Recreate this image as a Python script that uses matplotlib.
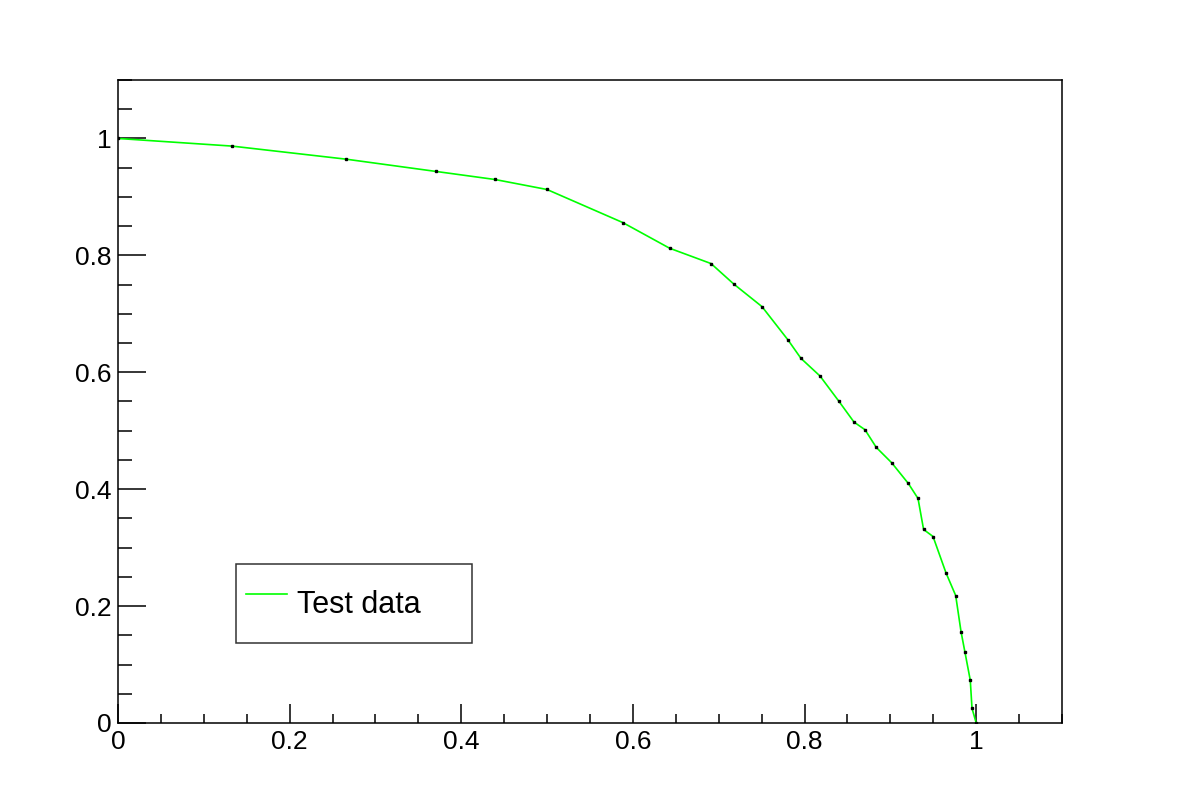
import matplotlib
matplotlib.use("Agg")
import matplotlib.pyplot as plt
from matplotlib.ticker import MultipleLocator
import numpy as np

plt.rcParams["font.family"] = ["Liberation Sans", "DejaVu Sans"]

# curve
x_vals = [0.0, 0.1325, 0.2657, 0.3710, 0.4393, 0.4999, 0.5881, 0.6428, 0.6910,
          0.7174, 0.7504, 0.7807, 0.7958, 0.8180, 0.8401, 0.8576, 0.8704, 0.8836,
          0.9015, 0.9209, 0.9322, 0.9387, 0.9497, 0.9648, 0.9761, 0.9823, 0.9869,
          0.9931, 0.9951, 1.0]
y_vals = [1.0, 0.987, 0.9646, 0.9435, 0.9298, 0.9127, 0.8562, 0.8122, 0.7860,
          0.7511, 0.7123, 0.6553, 0.6238, 0.5936, 0.5502, 0.5148, 0.5017, 0.4714,
          0.4452, 0.4098, 0.3841, 0.3310, 0.3190, 0.2568, 0.2180, 0.1564, 0.1210,
          0.0731, 0.0251, 0.0]
series_label = "Test data"

fig = plt.figure(figsize=(11.82, 8.05), dpi=100)
ax = fig.add_axes([0.0998, 0.1019, 0.7987, 0.7987])

line, = ax.plot(x_vals, y_vals, color="#00ff00", lw=1.2, label=series_label)
ax.plot(x_vals, y_vals, ls="none", marker="s", ms=1.6, color="black")

ax.set_xlim(0, 1.1)
ax.set_ylim(0, 1.1)

ax.xaxis.set_major_locator(MultipleLocator(0.2))
ax.xaxis.set_minor_locator(MultipleLocator(0.05))
ax.yaxis.set_major_locator(MultipleLocator(0.2))
ax.yaxis.set_minor_locator(MultipleLocator(0.05))

def fmt(v, pos):
    if abs(v) < 1e-9:
        return "0"
    if abs(v - round(v)) < 1e-9:
        return str(int(round(v)))
    return "%g" % v

ax.xaxis.set_major_formatter(plt.FuncFormatter(fmt))
ax.yaxis.set_major_formatter(plt.FuncFormatter(fmt))

ax.tick_params(axis="x", which="major", direction="in", length=13.7, width=1.1,
               labelsize=19, pad=5, top=False)
ax.tick_params(axis="x", which="minor", direction="in", length=6.8, width=1.1, top=False)
ax.tick_params(axis="y", which="major", direction="in", length=20, width=1.1,
               labelsize=19, pad=4.5, right=False)
ax.tick_params(axis="y", which="minor", direction="in", length=10, width=1.1, right=False)

for s in ax.spines.values():
    s.set_linewidth(1.1)

# legend box
leg = ax.legend(handles=[line], loc="lower left",
                bbox_to_anchor=(0.1247, 0.1249, 0.2503, 0.1244), mode="expand",
                fancybox=False, frameon=True, edgecolor="black", fontsize=22,
                handlelength=1.35, handleheight=2.55, handletextpad=0.33,
                borderaxespad=0, borderpad=0.33)
leg.get_frame().set_linewidth(1.1)

fig.savefig("out.png", dpi=100)
